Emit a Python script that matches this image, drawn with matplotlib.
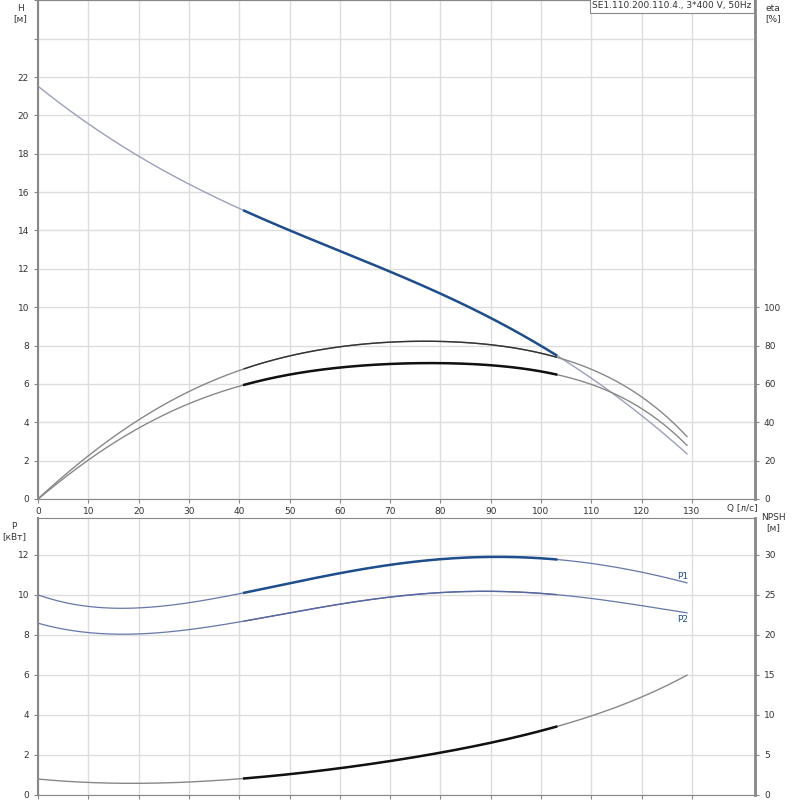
import matplotlib
matplotlib.use("Agg")
import matplotlib.pyplot as plt
import numpy as np

q = [0, 10, 20, 30, 41, 50, 60, 70, 80, 90, 103, 110, 120, 129]
head = [21.5, 19.6, 17.9, 16.4, 14.95, 14.0, 13.0, 11.9, 10.7, 9.4, 7.5, 6.2, 4.5, 2.3]
eta_a = [0, 23, 41, 55, 69, 75, 79, 81.5, 82, 80, 75, 68, 52, 33]
eta_b = [0, 20, 37, 50, 59.5, 65, 68, 70.5, 71, 70, 64.5, 60, 47, 28]
p1 = [10.0, 9.45, 9.35, 9.6, 10.1, 10.6, 11.1, 11.5, 11.8, 11.9, 11.75, 11.6, 11.15, 10.6]
p2 = [8.6, 8.1, 8.05, 8.3, 8.7, 9.1, 9.5, 9.9, 10.15, 10.2, 10.0, 9.8, 9.5, 9.1]
npsh = [2.0, 1.55, 1.5, 1.6, 2.05, 2.6, 3.4, 4.25, 5.25, 6.5, 8.6, 9.9, 12.2, 15.0]
title = "SE1.110.200.110.4., 3*400 V, 50Hz"

tc = "#333333"
plt.rcParams.update({"font.size": 6.5, "font.family": "DejaVu Sans"})
fig = plt.figure(figsize=(8, 8), dpi=100)
ax1 = fig.add_axes([38/800, 1-499/800, 717/800, 499/800])
ax2 = fig.add_axes([38/800, 5/800, 717/800, 277/800])
qmax = 130 * 717 / (692 - 38)

def smooth(x, y, lo=None, hi=None):
    x = np.array(x, float); y = np.array(y, float)
    c = np.polyfit(x, y, 5)
    xs = np.linspace(x[0] if lo is None else lo, x[-1] if hi is None else hi, 200)
    return xs, np.polyval(c, xs)

for ax in (ax1, ax2):
    ax.set_xlim(0, qmax)
    ax.set_xticks(np.arange(0, 140, 10))
    ax.grid(True, color="#dddddd", lw=1)
    for s in ax.spines.values():
        s.set_color("#888888")
    ax.spines["right"].set_linewidth(2)
    ax.spines["left"].set_linewidth(1.5)
    ax.tick_params(colors="#888888", labelcolor=tc, length=3, labelsize=6.5)

# top
ax1.set_ylim(0, 499/19.18)
ax1.set_yticks(np.arange(0, 27, 2))
ax1.set_yticklabels([str(v) if v <= 22 else "" for v in range(0, 27, 2)])
ax1.set_xticklabels([str(v) for v in range(0, 140, 10)])
ax1.tick_params(axis="x", pad=3)
ax1r = ax1.twinx()
ax1r.set_ylim(0, 499/19.18*10)
ax1r.set_yticks(np.arange(0, 101, 20))
ax1r.tick_params(colors="#888888", labelcolor=tc, length=3, labelsize=6.5)
for s in ax1r.spines.values():
    s.set_visible(False)

for y, xa, col in [(head, ax1, "#aab0c8"), ]:
    pass
xs, ys = smooth(q, head)
ax1.plot(xs, ys, color="#9aa0bb", lw=1)
xs, ys = smooth(q, head, 41, 103)
ax1.plot(xs, ys, color="#1f4e8c", lw=1.8)
for e in (eta_a, eta_b):
    xs, ys = smooth(q, e)
    ax1r.plot(xs, ys, color="#888888", lw=1)
xs, ys = smooth(q, eta_a, 41, 103)
ax1r.plot(xs, ys, color="#333333", lw=1)
xs, ys = smooth(q, eta_b, 41, 103)
ax1r.plot(xs, ys, color="#111111", lw=1.8)

ax1.text(0, 1.005, "H\n[м]", transform=ax1.transAxes, ha="right", va="top", fontsize=6.5, color=tc)
ax1.text(-0.008, 1.0, "", transform=ax1.transAxes)
fig.text(20/800, 1-4/800, "H\n[м]", ha="center", va="top", fontsize=6.5, color=tc)
ax1.texts[0].remove()
fig.text(773/800, 1-4/800, "eta\n[%]", ha="center", va="top", fontsize=6.5, color=tc)
fig.text(742/800, 1-509/800, "Q [л/с]", ha="center", va="center", fontsize=6.5, color=tc)
ax1.text(0.995, 0.997, title, transform=ax1.transAxes, ha="right", va="top", fontsize=6.5,
         color=tc, bbox=dict(facecolor="white", edgecolor="#888888", boxstyle="square,pad=0.25", lw=0.8))

# bottom
ax2.set_ylim(0, 277/20)
ax2.set_yticks(np.arange(0, 13, 2))
ax2.set_xticklabels([])
ax2r = ax2.twinx()
ax2r.set_ylim(0, 277/8)
ax2r.set_yticks(np.arange(0, 31, 5))
ax2r.tick_params(colors="#888888", labelcolor=tc, length=3, labelsize=6.5)
for s in ax2r.spines.values():
    s.set_visible(False)
fig.text(14/800, 1-522/800, "P\n[кВт]", ha="center", va="top", fontsize=6.5, color=tc)
fig.text(773/800, 1-513/800, "NPSH\n[м]", ha="center", va="top", fontsize=6.5, color=tc)

for p in (p1, p2):
    xs, ys = smooth(q, p)
    ax2.plot(xs, ys, color="#6677aa", lw=0.9)
xs, ys = smooth(q, p1, 41, 103)
ax2.plot(xs, ys, color="#1f4e8c", lw=1.8)
xs, ys = smooth(q, p2, 41, 103)
ax2.plot(xs, ys, color="#5566a0", lw=1)
ax2.text(127, 10.7, "P1", fontsize=6.5, color="#1f4e8c", ha="left", va="bottom")
ax2.text(127, 9.0, "P2", fontsize=6.5, color="#1f4e8c", ha="left", va="top")
xs, ys = smooth(q, npsh)
ax2r.plot(xs, ys, color="#888888", lw=1)
xs, ys = smooth(q, npsh, 41, 103)
ax2r.plot(xs, ys, color="#111111", lw=1.8)

fig.savefig("out.png", dpi=100)
